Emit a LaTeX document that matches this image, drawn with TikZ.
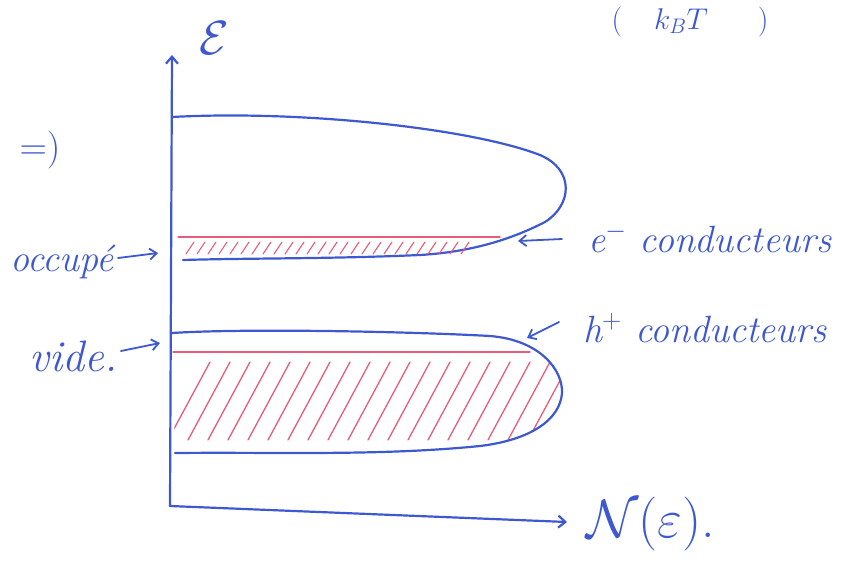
\RequirePackage{fix-cm}
\documentclass[tikz,border=0pt]{standalone}
\usetikzlibrary{arrows.meta}
\definecolor{pen}{RGB}{62,88,208}
\definecolor{redpen}{RGB}{232,92,122}
\begin{document}
\begin{tikzpicture}[x=1pt,y=-1pt, line cap=round, line join=round,
  ink/.style={draw=pen, line width=2.2pt},
  hatch/.style={draw=redpen, line width=1.3pt},
  lbl/.style={text=pen, font=\fontsize{38}{44}\selectfont\itshape, inner sep=0pt},
  arr/.style={draw=pen, line width=1.8pt, -{Straight Barb[length=7pt,width=11pt]}}]
\useasboundingbox (0,0) rectangle (843,562);
\fill[white] (0,0) rectangle (843,562);

% axes
\coordinate (O) at (170,506);
\coordinate (Ytop) at (172,55);
\coordinate (Xend) at (567,522);
\draw[ink, -{Straight Barb[length=7pt,width=12pt]}] (O) -- (Ytop);
\draw[ink, -{Straight Barb[length=7pt,width=12pt]}] (O) -- (Xend);

% conduction band
\draw[ink] (172,117) .. controls (300,110) and (470,128) .. (540,155)
  .. controls (575,170) and (572,205) .. (545,222)
  .. controls (510,240) and (470,252) .. (420,255)
  .. controls (330,259) and (250,258) .. (183,260);
\draw[hatch] (178,237) -- (500,237);
\foreach \x in {186,197,...,470} \draw[hatch, line width=1.1pt] (\x,254) -- (\x+8,242);

% valence band
\def\valpath{(172,333) .. controls (250,328) and (420,332) .. (490,336)
  .. controls (540,340) and (563,370) .. (562,393)
  .. controls (560,420) and (530,440) .. (480,446)
  .. controls (380,456) and (280,452) .. (175,453)}
\begin{scope}
  \clip (172,352) -- (530,352) -- (600,352) -- (600,460) -- (172,460) -- cycle;
  \clip \valpath -- cycle;
  \foreach \x in {168,188,...,560} \draw[hatch] (\x,440) -- (\x+42,362);
\end{scope}
\draw[ink] \valpath;
\draw[hatch] (173,352) -- (530,352);

% axis labels
\node[lbl, font=\fontsize{48}{54}\selectfont] (E) at (214,38) {$\mathcal{E}$};
\node[lbl, font=\fontsize{54}{60}\selectfont, anchor=west] (N) at (586,524) {$\mathcal{N}(\varepsilon)$.};

% top partial formula
\node[lbl, font=\fontsize{30}{34}\selectfont] (top) at (690,22) {$(\hspace{32pt}k_{B}T\hspace{50pt})$};

% left labels
\node[lbl, font=\fontsize{38}{44}\selectfont] (impl) at (40,150) {$=)$};
\node[lbl, anchor=east] (occ) at (114,262) {occupé};
\node[lbl, anchor=east, font=\fontsize{44}{50}\selectfont\itshape] (vide) at (118,356) {vide.};
\coordinate (occT) at (158,253);
\coordinate (videT) at (160,343);
\path (occ.east) ++(4,-4) coordinate (occS);
\draw[arr] (occS) -- (occT);
\path (vide.east) ++(3,-5) coordinate (videS);
\draw[arr] (videS) -- (videT);

% right labels
\node[lbl, anchor=west] (econd) at (588,238) {e$^{-}$ conducteurs};
\node[lbl, anchor=west] (hcond) at (583,328) {h$^{+}$ conducteurs};
\coordinate (eT) at (518,241);
\coordinate (hT) at (527,338);
\path (econd.west) ++(-26,1) coordinate (eS);
\draw[arr] (eS) -- (eT);
\path (hcond.west) ++(-24,-6) coordinate (hS);
\draw[arr] (hS) -- (hT);
\end{tikzpicture}
\end{document}
